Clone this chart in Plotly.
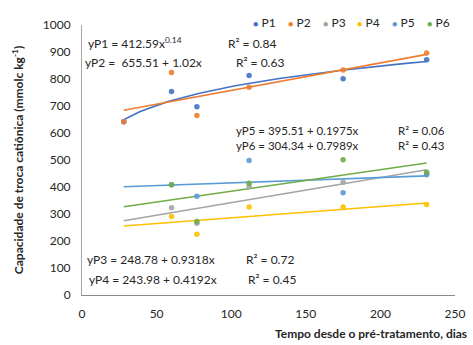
import numpy as np
import plotly.graph_objects as go

# Data
days = [28, 60, 77, 112, 175, 231]
days_low = [60, 77, 112, 175, 231]

P1 = [642, 754, 697, 813, 801, 871]
P2 = [642, 824, 665, 769, 833, 896]
P3 = [323, 266, 403, 418, 449]
P4 = [291, 225, 326, 326, 335]
P5 = [408, 366, 498, 379, 445]
P6 = [408, 272, 414, 501, 455]

names = ["P1", "P2", "P3", "P4", "P5", "P6"]
colors = ["#4472C4", "#ED7D31", "#A5A5A5", "#FFC000", "#5B9BD5", "#70AD47"]

# Trendline coefficients (as shown in chart; P1 is a power fit a*x^b)
p1_a, p1_b = 412.59, 0.136
lin_intercepts = {"P2": 655.51, "P3": 248.78, "P4": 243.98, "P5": 395.51, "P6": 304.34}
lin_slopes = {"P2": 1.02, "P3": 0.9318, "P4": 0.4192, "P5": 0.1975, "P6": 0.7989}

eq_labels = [
    ("yP1 = 412.59x<sup>0.14</sup>", 87, 43, "R² = 0.84", 227, 43, 12),
    ("yP2 =  655.51 + 1.02x", 84, 62, "R² = 0.63", 235, 62, 12),
    ("yP5 = 395.51 + 0.1975x", 235, 130.5, "R² = 0.06", 397, 130.5, 11.5),
    ("yP6 = 304.34 + 0.7989x", 235, 145, "R² = 0.43", 397, 145, 11.5),
    ("yP3 = 248.78 + 0.9318x", 86, 259, "R² = 0.72", 245, 259, 12),
    ("yP4 = 243.98 + 0.4192x", 88, 279, "R² = 0.45", 247, 279, 12),
]

W, H = 473, 345
L, R, T, B = 82, 18, 25, 50
pw, ph = W - L - R, H - T - B

FONT = "Lato"
TXT = "#262626"
fig = go.Figure()

xt = np.linspace(days[0], days[-1], 60)
series = {"P1": (days, P1), "P2": (days, P2), "P3": (days_low, P3),
          "P4": (days_low, P4), "P5": (days_low, P5), "P6": (days_low, P6)}

# trendlines first
for n, c in zip(names, colors):
    if n == "P1":
        yt = p1_a * xt ** p1_b
    else:
        yt = lin_intercepts[n] + lin_slopes[n] * xt
    fig.add_trace(go.Scatter(x=xt, y=yt, mode="lines", line=dict(color=c, width=1.6),
                             showlegend=False, hoverinfo="skip"))

for n, c in zip(names, colors):
    x, y = series[n]
    fig.add_trace(go.Scatter(x=x, y=y, mode="markers", name=n, showlegend=False,
                             marker=dict(color=c, size=5.5, opacity=0.9)))

def px2paper_x(px):
    return (px - L) / pw

def px2paper_y(py):
    return (H - B - py) / ph

for eq, ex, ey, r2, rx, ry, fs in eq_labels:
    for txt, xx in ((eq, ex), (r2, rx)):
        fig.add_annotation(text=txt, x=px2paper_x(xx), y=px2paper_y(ey), xref="paper", yref="paper",
                           xanchor="left", yanchor="middle", showarrow=False, borderpad=0,
                           font=dict(family=FONT, size=fs, color=TXT))

# legend drawn as text entries (bullet + name)
leg_x0, leg_dx = 252, 34.8
for i, (n, c) in enumerate(zip(names, colors)):
    fig.add_annotation(text=f"<span style='color:{c};font-size:9px'>●</span> {n}",
                       x=px2paper_x(leg_x0 + i * leg_dx), y=px2paper_y(22), xref="paper", yref="paper",
                       xanchor="left", yanchor="middle", showarrow=False, borderpad=0,
                       font=dict(family=FONT, size=12, color=TXT))

# x-axis title placed like reference (partly beyond right edge)
fig.add_annotation(text="<b>Tempo desde o pré-tratamento, dias</b>", x=px2paper_x(273), y=px2paper_y(333),
                   xref="paper", yref="paper", xanchor="left", yanchor="middle", showarrow=False,
                   font=dict(family=FONT, size=12, color=TXT))

fig.update_layout(
    width=W, height=H,
    margin=dict(l=L, r=R, t=T, b=B, autoexpand=False),
    paper_bgcolor="white", plot_bgcolor="white",
    font=dict(family=FONT, size=12, color=TXT),
    showlegend=False,
    xaxis=dict(range=[0, 250], tickvals=[0, 50, 100, 150, 200, 250], showgrid=False, zeroline=False,
               showline=True, linecolor="#8C8C8C", linewidth=1, automargin=False,
               ticks="outside", ticklen=8, tickcolor="rgba(0,0,0,0)",
               tickfont=dict(family=FONT, size=12, color=TXT)),
    yaxis=dict(range=[0, 1000], tickvals=list(range(0, 1001, 100)), showgrid=False, zeroline=False,
               showline=True, linecolor="#A6A6A6", linewidth=1, automargin=False,
               ticks="outside", ticklen=8, tickcolor="rgba(0,0,0,0)",
               tickfont=dict(family=FONT, size=12, color=TXT),
               title=dict(text="<b>Capacidade de troca catiônica (mmolc kg<sup>-1</sup>)</b>",
                          font=dict(family=FONT, size=12, color=TXT), standoff=16)),
)

fig.write_html("out.html", config={"displayModeBar": False},
               post_script="document.body.style.margin='0';")
